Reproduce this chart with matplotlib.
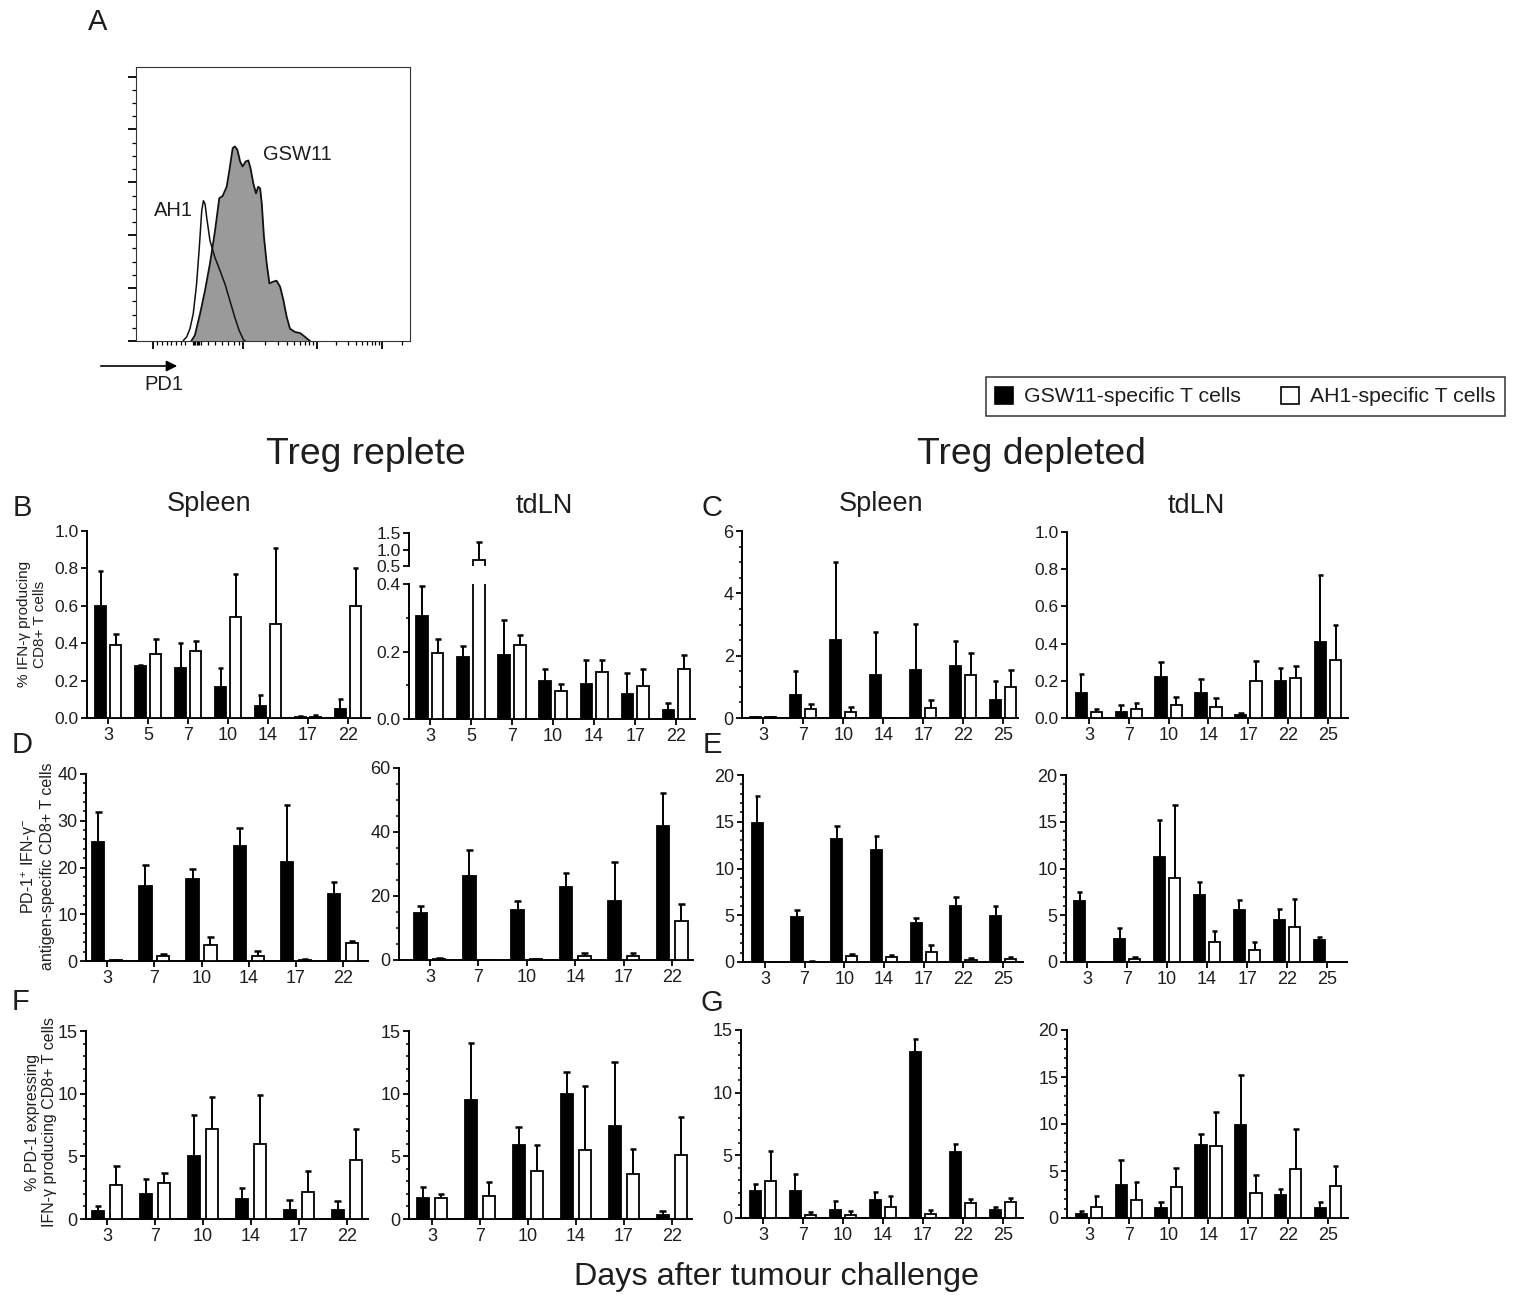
import numpy as np
import matplotlib
matplotlib.use('Agg')
import matplotlib.pyplot as plt
from matplotlib.patches import Patch, FancyArrowPatch
from matplotlib.ticker import MultipleLocator, FormatStrFormatter, FixedLocator

plt.rcParams['font.family'] = ['Liberation Sans', 'DejaVu Sans']
plt.rcParams['mathtext.fontset'] = 'custom'
plt.rcParams['mathtext.rm'] = 'Liberation Sans'
plt.rcParams['mathtext.it'] = 'Liberation Sans:italic'
plt.rcParams['text.color'] = '#1e1e1e'

# ---------------- data ----------------
days_replete_B = ['3', '5', '7', '10', '14', '17', '22']
days_replete = ['3', '7', '10', '14', '17', '22']
days_depleted = ['3', '7', '10', '14', '17', '22', '25']

# B: % IFN-g producing CD8+ T cells, Treg replete
B_spl_gsw = [0.60, 0.28, 0.27, 0.165, 0.065, 0.005, 0.05]
B_spl_gsw_err = [0.185, 0.005, 0.13, 0.105, 0.06, 0.005, 0.05]
B_spl_ah1 = [0.39, 0.34, 0.36, 0.54, 0.505, 0.008, 0.60]
B_spl_ah1_err = [0.06, 0.08, 0.05, 0.23, 0.405, 0.007, 0.20]

B_ln_gsw = [0.304, 0.184, 0.19, 0.113, 0.103, 0.075, 0.026]
B_ln_gsw_err = [0.09, 0.031, 0.104, 0.036, 0.071, 0.061, 0.022]
B_ln_ah1 = [0.195, 0.67, 0.218, 0.083, 0.139, 0.097, 0.147]
B_ln_ah1_err = [0.041, 0.57, 0.03, 0.02, 0.035, 0.052, 0.042]

# C: Treg depleted
C_spl_gsw = [0.03, 0.75, 2.50, 1.37, 1.53, 1.66, 0.59]
C_spl_gsw_err = [0.01, 0.75, 2.52, 1.40, 1.48, 0.82, 0.59]
C_spl_ah1 = [0.03, 0.28, 0.19, 0.0, 0.32, 1.37, 1.00]
C_spl_ah1_err = [0.01, 0.17, 0.16, 0.0, 0.27, 0.73, 0.53]

C_ln_gsw = [0.134, 0.032, 0.22, 0.134, 0.014, 0.20, 0.41]
C_ln_gsw_err = [0.103, 0.036, 0.08, 0.074, 0.013, 0.07, 0.36]
C_ln_ah1 = [0.032, 0.05, 0.068, 0.059, 0.20, 0.217, 0.314]
C_ln_ah1_err = [0.015, 0.03, 0.045, 0.049, 0.106, 0.061, 0.184]

# D: PD-1+ IFN-g- antigen-specific CD8+ T cells, Treg replete
D_spl_gsw = [25.4, 16.0, 17.6, 24.5, 21.2, 14.3]
D_spl_gsw_err = [6.4, 4.5, 2.1, 3.9, 12.2, 2.6]
D_spl_ah1 = [0.2, 1.1, 3.5, 1.1, 0.3, 3.9]
D_spl_ah1_err = [0.1, 0.3, 1.6, 1.0, 0.2, 0.4]

D_ln_gsw = [14.8, 26.1, 15.7, 22.8, 18.5, 42.0]
D_ln_gsw_err = [2.1, 8.3, 2.6, 4.3, 12.1, 10.2]
D_ln_ah1 = [0.4, 0.0, 0.3, 1.1, 1.1, 12.2]
D_ln_ah1_err = [0.2, 0.0, 0.1, 1.0, 1.0, 5.3]

# E: Treg depleted
E_spl_gsw = [14.9, 4.77, 13.2, 12.0, 4.16, 6.0, 4.88]
E_spl_gsw_err = [2.9, 0.83, 1.3, 1.5, 0.54, 0.9, 1.12]
E_spl_ah1 = [0.0, 0.05, 0.6, 0.5, 1.07, 0.25, 0.36]
E_spl_ah1_err = [0.0, 0.03, 0.25, 0.3, 0.78, 0.18, 0.17]

E_ln_gsw = [6.48, 2.46, 11.2, 7.19, 5.59, 4.52, 2.38]
E_ln_gsw_err = [1.06, 1.17, 4.0, 1.35, 0.99, 1.17, 0.29]
E_ln_ah1 = [0.0, 0.36, 8.97, 2.1, 1.32, 3.74, 0.0]
E_ln_ah1_err = [0.0, 0.14, 7.83, 1.17, 0.78, 3.02, 0.0]

# F: % PD-1 expressing IFN-g producing CD8+ T cells, Treg replete
F_spl_gsw = [0.66, 2.0, 5.04, 1.6, 0.74, 0.72]
F_spl_gsw_err = [0.34, 1.2, 3.26, 0.87, 0.75, 0.68]
F_spl_ah1 = [2.73, 2.87, 7.19, 6.0, 2.12, 4.73]
F_spl_ah1_err = [1.47, 0.83, 2.58, 3.9, 1.73, 2.44]

F_ln_gsw = [1.68, 9.46, 5.89, 9.99, 7.46, 0.29]
F_ln_gsw_err = [0.85, 4.61, 1.44, 1.73, 5.04, 0.35]
F_ln_ah1 = [1.68, 1.87, 3.81, 5.54, 3.62, 5.12]
F_ln_ah1_err = [0.32, 1.06, 2.08, 5.06, 1.98, 3.03]

# G: Treg depleted
G_spl_gsw = [2.12, 2.12, 0.66, 1.41, 13.22, 5.23, 0.61]
G_spl_gsw_err = [0.61, 1.41, 0.72, 0.66, 1.06, 0.69, 0.27]
G_spl_ah1 = [2.92, 0.27, 0.27, 0.88, 0.32, 1.19, 1.27]
G_spl_ah1_err = [2.39, 0.21, 0.31, 0.9, 0.29, 0.35, 0.32]

G_ln_gsw = [0.46, 3.46, 1.07, 7.75, 9.89, 2.43, 1.07]
G_ln_gsw_err = [0.25, 2.72, 0.64, 1.18, 5.36, 0.61, 0.64]
G_ln_ah1 = [1.14, 1.89, 3.32, 7.68, 2.68, 5.25, 3.39]
G_ln_ah1_err = [1.25, 1.93, 2.04, 3.64, 1.86, 4.21, 2.15]

# A: PD1 histogram outlines (channel units 0-100, % of max)
gsw11_x = [20.3, 21.5, 23.4, 25.2, 27.0, 28.8, 30.4, 31.6, 33.1, 34.1, 35.3, 36.1, 37.0,
           38.0, 38.9, 40.0, 41.0, 41.8, 42.8, 43.8, 44.6, 45.3, 45.9, 46.7, 47.7, 48.7,
           49.9, 51.3, 52.6, 53.8, 55.0, 56.2, 58.0, 59.9, 61.7, 63.5]
gsw11_y = [0.2, 2.1, 10.0, 18.5, 28.3, 39.9, 52.1, 52.9, 56.3, 62.4, 70.4, 71.0, 69.8,
           65.5, 63.7, 65.5, 65.9, 63.0, 57.6, 53.9, 56.3, 55.7, 50.2, 38.0, 28.3, 21.0,
           21.6, 22.0, 19.8, 14.9, 8.8, 4.5, 3.3, 2.9, 1.5, 0.0]
ah1_x = [17.3, 18.5, 19.7, 20.9, 22.1, 23.1, 24.0, 24.6, 25.2, 25.8, 27.0, 28.8, 30.7,
         32.5, 34.3, 36.1, 37.7, 39.2, 39.8]
ah1_y = [0.2, 1.5, 4.5, 10.0, 20.7, 34.1, 47.6, 51.2, 50.0, 45.1, 36.6, 30.5, 25.6,
         20.7, 14.6, 8.5, 3.7, 0.5, 0.0]

# ---------------- figure ----------------
W, H = 1515, 1299
fig = plt.figure(figsize=(W / 100, H / 100), dpi=100)
TXT = '#1e1e1e'


def rect(l, t, r, b):
    return [l / W, 1 - b / H, (r - l) / W, (b - t) / H]


def ftext(x, y, s, **kw):
    kw.setdefault('ha', 'center')
    kw.setdefault('va', 'center')
    return fig.text(x / W, 1 - y / H, s, **kw)


def style_axes(ax, major, minor, fmt, ylsize):
    for sp in ('top', 'right'):
        ax.spines[sp].set_visible(False)
    for sp in ('left', 'bottom'):
        ax.spines[sp].set_linewidth(1.4)
        ax.spines[sp].set_color('black')
    ax.yaxis.set_major_locator(MultipleLocator(major))
    if minor:
        ax.yaxis.set_minor_locator(MultipleLocator(minor))
    ax.yaxis.set_major_formatter(FormatStrFormatter(fmt))
    ax.tick_params(axis='y', which='major', length=4.5, width=1.3, labelsize=ylsize,
                   pad=1.5, colors='black', labelcolor=TXT)
    ax.tick_params(axis='y', which='minor', length=2.5, width=1.1, colors='black')
    ax.tick_params(axis='x', length=4.5, width=1.3, labelsize=13, pad=2,
                   colors='black', labelcolor=TXT)


def draw_bars(ax, gsw, gsw_err, ah1, ah1_err, width, off, cap):
    x = np.arange(len(gsw))
    for xs, v, e, fc in ((x - off, gsw, gsw_err, 'black'), (x + off, ah1, ah1_err, 'white')):
        v = np.asarray(v, float)
        e = np.asarray(e, float)
        ax.bar(xs, v, width, color=fc, edgecolor='black', linewidth=1.3, zorder=3)
        m = e > 0
        ax.vlines(xs[m], v[m], v[m] + e[m], color='black', lw=1.4, zorder=2)
        ax.hlines(v[m] + e[m], xs[m] - cap, xs[m] + cap, color='black', lw=1.8, zorder=2)


def bar_panel(box, days, gsw, gsw_err, ah1, ah1_err, xlim, ylim, major, minor, fmt,
              width=0.28, off=0.19, ylsize=13):
    ax = fig.add_axes(rect(*box))
    draw_bars(ax, gsw, gsw_err, ah1, ah1_err, width, off, 0.07)
    ax.set_xlim(*xlim)
    ax.set_ylim(*ylim)
    ax.set_xticks(np.arange(len(days)))
    ax.set_xticklabels(days)
    style_axes(ax, major, minor, fmt, ylsize)
    return ax


# ---- Panel A: histogram ----
axh = fig.add_axes(rect(136, 67, 410, 341))
axh.fill_between(gsw11_x, gsw11_y, 0, color='#9a9a9a', lw=0, zorder=1)
axh.plot(gsw11_x, gsw11_y, color='#111111', lw=1.3, zorder=2)
axh.plot(ah1_x, ah1_y, color='#111111', lw=1.1, zorder=3)
axh.set_xlim(0, 100)
axh.set_ylim(0, 100)
for sp in axh.spines.values():
    sp.set_linewidth(0.8)
    sp.set_color('#333333')
axh.yaxis.set_major_locator(FixedLocator([0, 19.3, 38.6, 57.9, 77.2, 96.5]))
axh.yaxis.set_minor_locator(FixedLocator([v + k * 4.825 for v in [0, 19.3, 38.6, 57.9, 77.2]
                                          for k in (1, 2, 3)]))
hist_major_px = [218, 488, 710, 905]
hist_minor_px = [232, 246, 260, 274, 288, 302, 316, 338, 342, 346, 350, 354, 358, 362,
                 385, 405, 425, 445, 462, 476, 555, 594, 622, 643, 661, 676, 688, 700,
                 769, 803, 827, 846, 862, 875, 886, 896, 965]
axh.xaxis.set_major_locator(FixedLocator([(p - 168) / 8.22 for p in hist_major_px]))
axh.xaxis.set_minor_locator(FixedLocator([(p - 168) / 8.22 for p in hist_minor_px]))
axh.tick_params(which='major', length=6, width=1.3, labelleft=False, labelbottom=False,
                colors='black')
axh.tick_params(which='minor', length=3, width=0.9, colors='black')
ftext(297, 155, 'GSW11', fontsize=14.5)
ftext(173, 211, 'AH1', fontsize=14.5)
ftext(164, 384, 'PD1', fontsize=14.5)
fig.add_artist(FancyArrowPatch((98 / W, 1 - 366 / H), (180 / W, 1 - 366 / H),
                               transform=fig.transFigure, arrowstyle='-|>',
                               mutation_scale=16, lw=1.2, color='black'))

# ---- legend ----
leg = fig.legend(handles=[Patch(fc='black', ec='black', lw=1.2),
                          Patch(fc='white', ec='black', lw=1.2)],
                 labels=['GSW11-specific T cells', 'AH1-specific T cells'],
                 loc='upper right', bbox_to_anchor=(1505 / W, 1 - 377 / H), ncol=2,
                 fontsize=15.3, frameon=True, fancybox=False, edgecolor='black',
                 handlelength=0.85, handleheight=0.85, handletextpad=0.5,
                 columnspacing=1.9, borderpad=0.45, borderaxespad=0)
leg.get_frame().set_linewidth(1.1)

# ---- headings ----
ftext(366, 455, 'Treg replete', fontsize=26.8)
ftext(1031, 455, 'Treg depleted', fontsize=26.8)
ftext(209, 504, 'Spleen', fontsize=19.5)
ftext(544, 506, 'tdLN', fontsize=19.5)
ftext(881, 504, 'Spleen', fontsize=19.5)
ftext(1196, 506, 'tdLN', fontsize=19.5)
for letter, (px, py) in {'A': (98, 22), 'B': (22, 508), 'C': (712, 508), 'D': (22, 745),
                         'E': (712, 745), 'F': (21, 1002), 'G': (712, 1003)}.items():
    ftext(px, py, letter, fontsize=21)
ftext(777, 1277, 'Days after tumour challenge', fontsize=23.3)

# ---- row B / C ----
bar_panel((87, 531, 370, 718), days_replete_B, B_spl_gsw, B_spl_gsw_err, B_spl_ah1,
          B_spl_ah1_err, (-0.53, 6.55), (0, 1.0), 0.2, None, '%.1f', ylsize=12.5)

axl = bar_panel((409, 584, 695, 719), days_replete_B, B_ln_gsw, B_ln_gsw_err, B_ln_ah1,
                B_ln_ah1_err, (-0.51, 6.46), (0, 0.4), 0.2, 0.1, '%.1f', ylsize=12.5)
axu = fig.add_axes(rect(409, 533, 695, 566))
draw_bars(axu, B_ln_gsw, B_ln_gsw_err, B_ln_ah1, B_ln_ah1_err, 0.28, 0.19, 0.07)
axu.set_xlim(-0.51, 6.46)
axu.set_ylim(0.5, 1.5)
for sp in ('top', 'right', 'bottom'):
    axu.spines[sp].set_visible(False)
axu.spines['left'].set_linewidth(1.4)
axu.set_xticks([])
axu.set_yticks([0.5, 1.0, 1.5])
axu.yaxis.set_major_formatter(FormatStrFormatter('%.1f'))
axu.tick_params(axis='y', length=4.5, width=1.3, labelsize=12.5, pad=1.5, labelcolor=TXT)

bar_panel((742, 531, 1018, 718), days_depleted, C_spl_gsw, C_spl_gsw_err, C_spl_ah1,
          C_spl_ah1_err, (-0.53, 6.37), (0, 6), 2, 0.5, '%d')
bar_panel((1067, 532, 1348, 718), days_depleted, C_ln_gsw, C_ln_gsw_err, C_ln_ah1,
          C_ln_ah1_err, (-0.55, 6.5), (0, 1.0), 0.2, None, '%.1f', ylsize=12.5)

# ---- row D / E ----
bar_panel((86, 774, 368, 961), days_replete, D_spl_gsw, D_spl_gsw_err, D_spl_ah1,
          D_spl_ah1_err, (-0.45, 5.53), (0, 40), 10, 2, '%d', width=0.26)
bar_panel((399, 768, 693, 960), days_replete, D_ln_gsw, D_ln_gsw_err, D_ln_ah1,
          D_ln_ah1_err, (-0.64, 5.43), (0, 60), 20, 5, '%d', width=0.26)
bar_panel((743, 775, 1023, 962), days_depleted, E_spl_gsw, E_spl_gsw_err, E_spl_ah1,
          E_spl_ah1_err, (-0.55, 6.5), (0, 20), 5, 1, '%d')
bar_panel((1066, 775, 1347, 962), days_depleted, E_ln_gsw, E_ln_gsw_err, E_ln_ah1,
          E_ln_ah1_err, (-0.53, 6.5), (0, 20), 5, 1, '%d')

# ---- row F / G ----
bar_panel((86, 1031, 368, 1219), days_replete, F_spl_gsw, F_spl_gsw_err, F_spl_ah1,
          F_spl_ah1_err, (-0.44, 5.44), (0, 15), 5, 1, '%d', width=0.26)
bar_panel((409, 1031, 692, 1219), days_replete, F_ln_gsw, F_ln_gsw_err, F_ln_ah1,
          F_ln_ah1_err, (-0.48, 5.42), (0, 15), 5, 1, '%d', width=0.26)
bar_panel((741, 1030, 1023, 1218), days_depleted, G_spl_gsw, G_spl_gsw_err, G_spl_ah1,
          G_spl_ah1_err, (-0.55, 6.5), (0, 15), 5, 1, '%d')
bar_panel((1067, 1030, 1348, 1218), days_depleted, G_ln_gsw, G_ln_gsw_err, G_ln_ah1,
          G_ln_ah1_err, (-0.55, 6.5), (0, 20), 5, 1, '%d')

# ---- y labels ----
ftext(32, 624, '% IFN-γ producing\nCD8+ T cells', rotation=90, fontsize=11,
      linespacing=1.1)
ftext(37, 866, 'PD-1$^{+}$ IFN-γ$^{-}$\nantigen-specific CD8+ T cells', rotation=90,
      fontsize=11.5, linespacing=1.1)
ftext(41, 1122, '% PD-1 expressing\nIFN-γ producing CD8+ T cells', rotation=90,
      fontsize=11.5, linespacing=1.1)

fig.savefig('out.png', dpi=100, facecolor='white')
